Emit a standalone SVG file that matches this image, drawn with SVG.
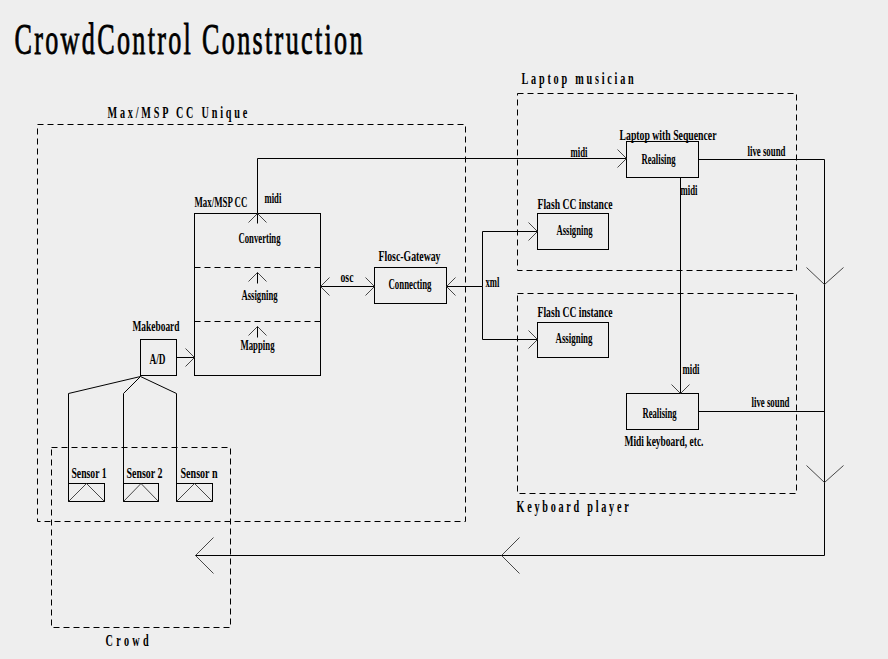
<svg xmlns="http://www.w3.org/2000/svg" width="888" height="659" viewBox="0 0 888 659">
<style>
text{font-family:"Liberation Serif","Times New Roman",serif;fill:#000;font-weight:bold}
.t{font-size:14px}
.l{font-size:15px}
.s{font-size:17px}
.n{fill:none;stroke:#000;stroke-width:1}
.d{fill:none;stroke:#000;stroke-width:1;stroke-dasharray:6 4}
.c{fill:none;stroke:#000;stroke-width:1}
.h{fill:none;stroke:#333;stroke-width:0.9}
</style>
<defs>
<marker id="a" viewBox="-12 -12 24 24" refX="0" refY="0" markerWidth="24" markerHeight="24" markerUnits="userSpaceOnUse" orient="auto-start-reverse">
<path d="M-9,-9 L0,0 L-9,9" fill="none" stroke="#333" stroke-width="0.9"/>
</marker>
</defs>
<rect width="888" height="659" fill="#eeeeee"/>
<g transform="translate(0.5 0.5)">
<text transform="translate(14 53) scale(0.58 1)" x="0" y="0" font-size="45" textLength="600" lengthAdjust="spacing" style="font-weight:normal;stroke:#000;stroke-width:0.9">CrowdControl Construction</text>

<g id="maxmsp-unique">
<rect class="d" x="37" y="124" width="428" height="397"/>
<text class="s" transform="translate(107 117) scale(0.6 1)" x="0" y="0" textLength="233" lengthAdjust="spacing">Max/MSP CC Unique</text>
</g>
<g id="laptop-musician">
<rect class="d" x="517" y="93" width="279" height="177"/>
<text class="s" transform="translate(521 83) scale(0.6 1)" x="0" y="0" textLength="187" lengthAdjust="spacing">Laptop musician</text>
</g>
<g id="keyboard-player">
<rect class="d" x="517" y="293" width="279" height="200"/>
<text class="s" transform="translate(516 511) scale(0.6 1)" x="0" y="0" textLength="187" lengthAdjust="spacing">Keyboard player</text>
</g>
<g id="crowd">
<rect class="d" x="51" y="447" width="179" height="180"/>
<text class="s" transform="translate(105 645) scale(0.6 1)" x="0" y="0" textLength="72" lengthAdjust="spacing">Crowd</text>
</g>

<g id="maxmsp-cc">
<rect class="n" x="194" y="213" width="126" height="162"/>
<line class="d" x1="194" y1="267" x2="320" y2="267"/>
<line class="d" x1="194" y1="321" x2="320" y2="321"/>
<text class="l" transform="translate(194 206) scale(0.6 1)" x="0" y="0" textLength="88" lengthAdjust="spacingAndGlyphs">Max/MSP CC</text>
<text class="t" x="238" y="242" textLength="42" lengthAdjust="spacingAndGlyphs">Converting</text>
<text class="t" x="241" y="299" textLength="36" lengthAdjust="spacingAndGlyphs">Assigning</text>
<text class="t" x="240" y="349" textLength="34" lengthAdjust="spacingAndGlyphs">Mapping</text>
</g>

<g id="makeboard">
<rect class="n" x="140" y="339" width="36" height="36"/>
<text class="l" x="132" y="330" textLength="47" lengthAdjust="spacingAndGlyphs">Makeboard</text>
<text class="t" x="149" y="363" textLength="16" lengthAdjust="spacingAndGlyphs">A/D</text>
</g>

<g id="sensor1">
<rect class="n" x="68" y="483" width="36" height="18"/>
<path class="h" d="M68,501 L86,483 L104,501"/>
<text class="t" x="71" y="477" textLength="35" lengthAdjust="spacingAndGlyphs">Sensor 1</text>
</g>
<g id="sensor2">
<rect class="n" x="123" y="483" width="35" height="18"/>
<path class="h" d="M123,501 L140.5,483 L158,501"/>
<text class="t" x="126" y="477" textLength="36" lengthAdjust="spacingAndGlyphs">Sensor 2</text>
</g>
<g id="sensorn">
<rect class="n" x="176" y="483" width="36" height="18"/>
<path class="h" d="M176,501 L194,483 L212,501"/>
<text class="t" x="180" y="477" textLength="37" lengthAdjust="spacingAndGlyphs">Sensor n</text>
</g>

<g id="flosc">
<rect class="n" x="374" y="267" width="72" height="36"/>
<text class="l" x="378" y="260" textLength="62" lengthAdjust="spacingAndGlyphs">Flosc-Gateway</text>
<text class="t" x="388" y="288" textLength="43" lengthAdjust="spacingAndGlyphs">Connecting</text>
</g>

<g id="flash1">
<rect class="n" x="537" y="213" width="71" height="36"/>
<text class="l" x="537" y="208" textLength="75" lengthAdjust="spacingAndGlyphs">Flash CC instance</text>
<text class="t" x="556" y="234" textLength="36" lengthAdjust="spacingAndGlyphs">Assigning</text>
</g>
<g id="flash2">
<rect class="n" x="537" y="322" width="71" height="35"/>
<text class="l" x="537" y="316" textLength="75" lengthAdjust="spacingAndGlyphs">Flash CC instance</text>
<text class="t" x="555" y="342" textLength="37" lengthAdjust="spacingAndGlyphs">Assigning</text>
</g>

<g id="laptop">
<rect class="n" x="626" y="141" width="72" height="36"/>
<text class="l" x="619" y="139" textLength="97" lengthAdjust="spacingAndGlyphs">Laptop with Sequencer</text>
<text class="t" x="641" y="163" textLength="34" lengthAdjust="spacingAndGlyphs">Realising</text>
</g>
<g id="keyboard">
<rect class="n" x="626" y="393" width="72" height="36"/>
<text class="t" x="642" y="417" textLength="34" lengthAdjust="spacingAndGlyphs">Realising</text>
<text class="l" x="624" y="445" textLength="79" lengthAdjust="spacingAndGlyphs">Midi keyboard, etc.</text>
</g>

<g id="connectors">
<path class="c" d="M257,223 V158 H626" marker-end="url(#a)"/>
<path class="h" d="M248,222 L257,213 L266,222"/>
<path class="c" d="M257,283 V272" marker-end="url(#a)"/>
<path class="c" d="M257,337 V326" marker-end="url(#a)"/>
<path class="c" d="M176,357 H194" marker-end="url(#a)"/>
<path class="c" d="M320,286 H374" marker-start="url(#a)" marker-end="url(#a)"/>
<path class="c" d="M446,286 H482" marker-start="url(#a)"/>
<path class="c" d="M482,286 V231 H537" marker-end="url(#a)"/>
<path class="c" d="M482,286 V339 H537" marker-end="url(#a)"/>
<path class="c" d="M680,177 V393" marker-end="url(#a)"/>
<path class="c" d="M698,159 H824 V555 H195"/>
<path class="c" d="M698,411 H824"/>
<path class="h" d="M806,267 L824,284 L843,267"/>
<path class="h" d="M806,465 L824,482 L843,465"/>
<path class="h" d="M519,537 L501,555 L519,573"/>
<path class="h" d="M213,537 L195,555 L213,573"/>
<path class="c" d="M140,376 L68,393 V483"/>
<path class="c" d="M140,376 L123,393 V483"/>
<path class="c" d="M140,376 L176,393 V483"/>
<text class="t" transform="translate(264 202) scale(0.6 1)" x="0" y="0" textLength="28" lengthAdjust="spacingAndGlyphs">midi</text>
<text class="t" x="340" y="281" textLength="13" lengthAdjust="spacingAndGlyphs">osc</text>
<text class="t" x="485" y="286" textLength="14" lengthAdjust="spacingAndGlyphs">xml</text>
<text class="t" x="570" y="156" textLength="17" lengthAdjust="spacingAndGlyphs">midi</text>
<text class="t" x="747" y="155" textLength="38" lengthAdjust="spacingAndGlyphs">live sound</text>
<text class="t" x="680" y="194" textLength="17" lengthAdjust="spacingAndGlyphs">midi</text>
<text class="t" x="682" y="373" textLength="17" lengthAdjust="spacingAndGlyphs">midi</text>
<text class="t" x="751" y="406" textLength="38" lengthAdjust="spacingAndGlyphs">live sound</text>
</g>
</g>
</svg>
